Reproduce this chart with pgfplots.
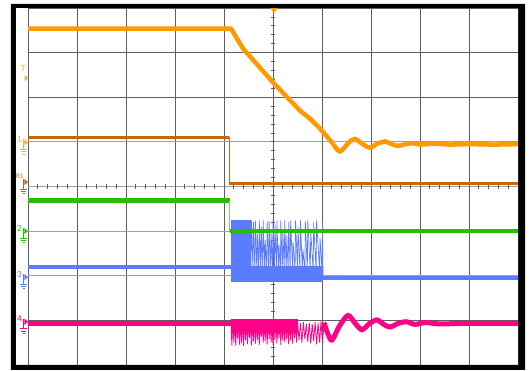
\documentclass[border=0pt]{standalone}
\usepackage{pgfplots}
\pgfplotsset{compat=1.18}
\usepackage{fontspec}
\setmainfont{Liberation Sans}
\definecolor{cOr}{RGB}{255,153,0}
\definecolor{cT}{RGB}{255,170,60}
\definecolor{cBr}{RGB}{198,104,10}
\definecolor{cGr}{RGB}{40,190,0}
\definecolor{cGrL}{RGB}{120,220,90}
\definecolor{cBl}{RGB}{90,125,255}
\definecolor{cMg}{RGB}{255,0,136}
\definecolor{gridc}{RGB}{95,95,95}
\definecolor{gridl}{RGB}{160,160,160}
\begin{document}
\begin{tikzpicture}
\useasboundingbox (-28pt,-6pt) rectangle (502pt,365pt);
\begin{axis}[at={(0pt,0pt)}, anchor=south west, scale only axis,
  width=490pt, height=357pt,
  xmin=-5, xmax=5, ymin=-4, ymax=4,
  xtick={-4,...,4}, ytick={-3,...,3},
  xticklabels={}, yticklabels={},
  major tick length=0pt,
  grid=major, major grid style={gridc, line width=0.9pt},
  axis line style={gridc, line width=0.9pt},
  clip=false]
% lighter reference lines
\draw[gridl, line width=0.9pt] (axis cs:-5,1) -- (axis cs:5,1);
\draw[gridl, line width=0.9pt] (axis cs:-5,0) -- (axis cs:5,0);
\draw[gridl, line width=0.9pt] (axis cs:-5,-1) -- (axis cs:5,-1);
\draw[gridl, line width=0.9pt] (axis cs:-5,-2) -- (axis cs:5,-2);
% minor ticks on centre lines
\pgfplotsinvokeforeach{-4.8,-4.6,...,4.8}{\draw[gridc, line width=0.8pt] (axis cs:#1,-0.055) -- (axis cs:#1,0.055);}
\pgfplotsinvokeforeach{-3.8,-3.6,...,3.8}{\draw[gridc, line width=0.8pt] (axis cs:-0.05,#1) -- (axis cs:0.05,#1);}

% ---- orange (top trace)
\addplot[cOr, line width=4.5pt, line join=round] coordinates {
 (-5,3.54) (-0.857,3.54) (-0.76,3.36) (-0.612,3.09) (0.02,2.31) (0.551,1.70) (0.755,1.52) (0.959,1.30) (1.224,0.96)};
\addplot[cOr, line width=4.5pt, smooth, tension=0.5] coordinates {
 (1.224,0.96) (1.30,0.84) (1.367,0.785) (1.45,0.86) (1.55,0.99) (1.673,1.065) (1.83,0.95) (1.98,0.87)
 (2.13,0.96) (2.286,1.01) (2.42,0.95) (2.55,0.91) (2.70,0.95) (2.85,0.97) (3.0,0.94) (3.3,0.96) (3.6,0.94) (4.0,0.95) (4.5,0.94) (5,0.95)};

% ---- brown (ch1)
\addplot[cBr, line width=3.5pt] coordinates {(-5,1.10) (-0.898,1.10)};
\addplot[cBr, line width=1pt] coordinates {(-0.898,1.10) (-0.898,0.07)};
\addplot[cBr, line width=3.5pt] coordinates {(-0.898,0.07) (5,0.07)};

% ---- blue (ch3)
\addplot[cBl, line width=4pt] coordinates {(-5,-1.80) (-0.857,-1.80)};
\addplot[fill=cBl, draw=none] coordinates {(-0.857,-2.15) (-0.857,-0.76) (-0.45,-0.76) (-0.45,-2.15)} -- cycle;
\addplot[fill=cBl, draw=none] coordinates {(-0.45,-2.15) (-0.45,-1.78) (1.02,-1.78) (1.02,-2.15)} -- cycle;
\addplot[cBl, line width=0.7pt] coordinates {
 (-0.45,-1.9) (-0.44,-0.76) (-0.41,-1.9) (-0.40,-0.80) (-0.37,-1.9) (-0.36,-0.76)
 (-0.33,-1.9) (-0.32,-1.05) (-0.29,-1.9) (-0.28,-0.76) (-0.25,-1.9) (-0.24,-0.90)
 (-0.21,-1.9) (-0.20,-0.76) (-0.17,-1.9) (-0.16,-1.20) (-0.13,-1.9) (-0.12,-0.78)
 (-0.09,-1.9) (-0.08,-0.76) (-0.05,-1.9) (-0.04,-1.00) (-0.01,-1.9) (0.00,-0.76)
 (0.03,-1.9) (0.04,-0.85) (0.07,-1.9) (0.08,-0.76) (0.11,-1.9) (0.12,-1.30)
 (0.15,-1.9) (0.16,-0.76) (0.19,-1.9) (0.20,-0.95) (0.23,-1.9) (0.24,-0.76)
 (0.27,-1.9) (0.28,-1.10) (0.31,-1.9) (0.32,-0.80) (0.35,-1.9) (0.36,-0.76)
 (0.40,-1.9) (0.41,-1.25) (0.45,-1.9) (0.46,-0.76) (0.50,-1.9) (0.51,-0.90)
 (0.55,-1.9) (0.56,-0.76) (0.60,-1.9) (0.61,-1.40) (0.65,-1.9) (0.66,-0.78)
 (0.70,-1.9) (0.71,-0.76) (0.76,-1.9) (0.77,-1.00) (0.82,-1.9) (0.83,-0.80)
 (0.88,-1.9) (0.89,-0.76) (0.95,-1.9) (0.96,-1.15) (1.00,-1.9) (1.01,-0.80) (1.02,-2.0)};
\addplot[cBl, line width=4pt] coordinates {(1.02,-2.06) (5,-2.06)};

% ---- green (ch2)
\addplot[cGr, line width=4.5pt] coordinates {(-5,-0.314) (-0.878,-0.314)};
\addplot[cGrL, line width=1pt] coordinates {(-0.878,-0.314) (-0.878,-1.0)};
\addplot[cGr, line width=4.5pt] coordinates {(-0.878,-1.0) (5,-1.0)};

% ---- magenta (ch4)
\addplot[cMg, line width=5.5pt] coordinates {(-5,-3.07) (-0.857,-3.07)};
\addplot[fill=cMg, draw=none] coordinates {(-0.857,-2.98) (0.5,-2.98) (0.5,-3.28) (-0.857,-3.28)} -- cycle;
\addplot[cMg, line width=0.8pt] coordinates {
 (-0.857,-3.00) (-0.84,-3.56) (-0.82,-3.02) (-0.80,-3.48) (-0.78,-3.00) (-0.76,-3.57)
 (-0.74,-3.01) (-0.72,-3.42) (-0.70,-3.00) (-0.68,-3.55) (-0.66,-3.02) (-0.64,-3.50)
 (-0.62,-3.00) (-0.60,-3.57) (-0.58,-3.01) (-0.56,-3.45) (-0.54,-3.00) (-0.52,-3.53)
 (-0.50,-3.02) (-0.48,-3.40) (-0.46,-3.00) (-0.44,-3.56) (-0.42,-3.01) (-0.40,-3.47)
 (-0.38,-3.00) (-0.36,-3.52) (-0.34,-3.02) (-0.32,-3.44) (-0.30,-3.00) (-0.28,-3.55)
 (-0.26,-3.01) (-0.24,-3.38) (-0.22,-3.00) (-0.20,-3.50) (-0.18,-3.03) (-0.16,-3.46)
 (-0.14,-3.00) (-0.12,-3.54) (-0.10,-3.02) (-0.08,-3.42) (-0.06,-3.00) (-0.04,-3.50)
 (-0.02,-3.03) (0.00,-3.56) (0.02,-3.00) (0.04,-3.44) (0.06,-3.02) (0.08,-3.52)
 (0.10,-3.00) (0.12,-3.40) (0.14,-3.03) (0.16,-3.55) (0.18,-3.00) (0.20,-3.46)
 (0.22,-3.02) (0.24,-3.50) (0.26,-3.00) (0.28,-3.43) (0.30,-3.04) (0.32,-3.54)
 (0.34,-3.01) (0.36,-3.45) (0.38,-3.03) (0.40,-3.52) (0.42,-3.00) (0.44,-3.40)
 (0.46,-3.05) (0.48,-3.50) (0.50,-3.02) (0.53,-3.45) (0.56,-3.06) (0.59,-3.50)
 (0.62,-3.04) (0.65,-3.42) (0.68,-3.08) (0.71,-3.48) (0.74,-3.05) (0.77,-3.52)
 (0.80,-3.08) (0.83,-3.46) (0.86,-3.04) (0.89,-3.54) (0.92,-3.06) (0.95,-3.50)
 (0.98,-3.02) (1.01,-3.52) (1.04,-3.05)};
\addplot[cMg, line width=5pt, smooth, tension=0.5] coordinates {
 (1.04,-3.05) (1.12,-3.30) (1.204,-3.44) (1.36,-3.12) (1.531,-2.89) (1.68,-3.07) (1.816,-3.21)
 (1.97,-3.07) (2.122,-2.99) (2.26,-3.09) (2.388,-3.15) (2.55,-3.07) (2.714,-3.03) (2.9,-3.09)
 (3.1,-3.05) (3.4,-3.08) (3.8,-3.07) (4.3,-3.07) (5,-3.07)};
\end{axis}

\begin{scope}[x=49pt, y=44.625pt, shift={(245pt,178.5pt)}]
 % trigger marker at top
 \fill[cOr] (-0.06,4) -- (0.10,4) -- (0.02,3.89) -- cycle;
 % channel markers
 \tikzset{mk/.style={font=\fontsize{8.5}{8.5}\selectfont, inner sep=0pt, anchor=east}}
 % T
 \node[mk, text=cT] at (-5.04,2.64) {T};
 \fill[cT] (-5.07,2.50) -- (-5.0,2.43) -- (-5.07,2.36) -- cycle;
 % generic markers: label, arrow, ground
 \foreach \c/\l/\Y in {cT/1/0.99, cGr/2/-1.0, cBl/3/-2.03, cMg/4/-3.03}{
   \node[mk, text=\c] at (-5.12,\Y+0.06) {\l};
   \fill[\c] (-5.075,\Y+0.07) -- (-5.0,\Y) -- (-5.075,\Y-0.07) -- cycle;
   \draw[\c, line width=0.7pt] (-5.09,\Y+0.07) -- (-5.09,\Y-0.16);
   \draw[\c, line width=0.7pt] (-5.16,\Y-0.16) -- (-5.02,\Y-0.16);
   \draw[\c, line width=0.7pt] (-5.135,\Y-0.21) -- (-5.045,\Y-0.21);
   \draw[\c, line width=0.7pt] (-5.11,\Y-0.26) -- (-5.07,\Y-0.26);
 }
 % R1 reference marker
 \node[font=\fontsize{6.5}{6.5}\selectfont, inner sep=0pt, anchor=east, text=cBr] at (-5.085,0.22) {R1};
 \fill[cBr] (-5.075,0.17) -- (-5.0,0.10) -- (-5.075,0.03) -- cycle;
 \draw[cBr, line width=0.7pt] (-5.09,0.17) -- (-5.09,-0.06);
 \draw[cBr, line width=0.7pt] (-5.16,-0.06) -- (-5.02,-0.06);
 \draw[cBr, line width=0.7pt] (-5.135,-0.11) -- (-5.045,-0.11);
 \draw[cBr, line width=0.7pt] (-5.11,-0.16) -- (-5.07,-0.16);
 % black screen frame
 \fill[black, even odd rule] (-5.347,-4.112) rectangle (5.143,4.09) (-5.245,-4.0) rectangle (5.01,4.0);
\end{scope}
\end{tikzpicture}
\end{document}
